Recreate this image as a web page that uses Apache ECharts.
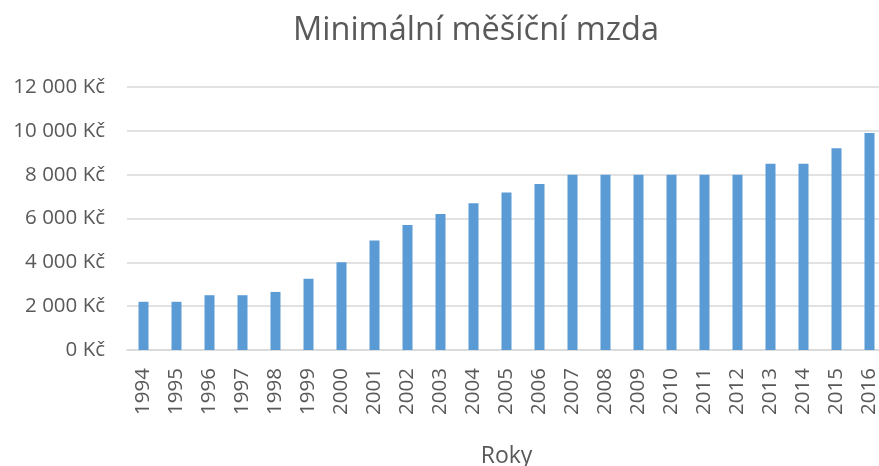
<!DOCTYPE html>
<html>
<head>
<meta charset="utf-8">
<script src="https://cdn.jsdelivr.net/npm/echarts@6/dist/echarts.min.js"></script>
<style>html,body{margin:0;padding:0;background:#fff}#c{width:879px;height:466px}</style>
</head>
<body>
<div id="c"></div>
<script>
const years = ["1994","1995","1996","1997","1998","1999","2000","2001","2002","2003","2004","2005","2006","2007","2008","2009","2010","2011","2012","2013","2014","2015","2016"];
const wages = [2200,2200,2500,2500,2650,3250,4000,5000,5700,6200,6700,7185,7570,8000,8000,8000,8000,8000,8000,8500,8500,9200,9900];
const titleText = "Minimální měšíční mzda";
const xName = "Roky";

const FONT = "Open Sans";
const chart = echarts.init(document.getElementById('c'), null, {renderer:'canvas'});
chart.setOption({
  animation:false,
  title:{text:titleText,left:471,textAlign:'center',top:9,textStyle:{fontFamily:FONT,fontSize:32.5,fontWeight:'normal',color:'#595959'}},
  grid:{left:127,top:87,width:759,bottom:116,containLabel:false,outerBoundsMode:'none'},
  xAxis:{type:'category',data:years,name:xName,nameLocation:'middle',nameGap:95,
    nameTextStyle:{fontFamily:FONT,fontSize:23,color:'#595959'},
    axisLine:{lineStyle:{color:'#d9d9d9',width:1.5}},axisTick:{show:false},
    axisLabel:{rotate:90,margin:18,fontFamily:FONT,fontSize:20.5,color:'#595959',interval:0}},
  yAxis:{type:'value',min:0,max:12000,interval:2000,
    axisLine:{show:false},axisTick:{show:false},
    splitLine:{lineStyle:{color:'#d9d9d9',width:1.5}},
    axisLabel:{margin:22,fontFamily:FONT,fontSize:20.5,color:'#595959',
      formatter:v=>String(v).replace(/\B(?=(\d{3})+(?!\d))/g,' ')+' Kč'}},
  series:[{type:'bar',data:wages,barWidth:10,itemStyle:{color:'#5b9bd5'}}]
});
</script>
</body>
</html>
